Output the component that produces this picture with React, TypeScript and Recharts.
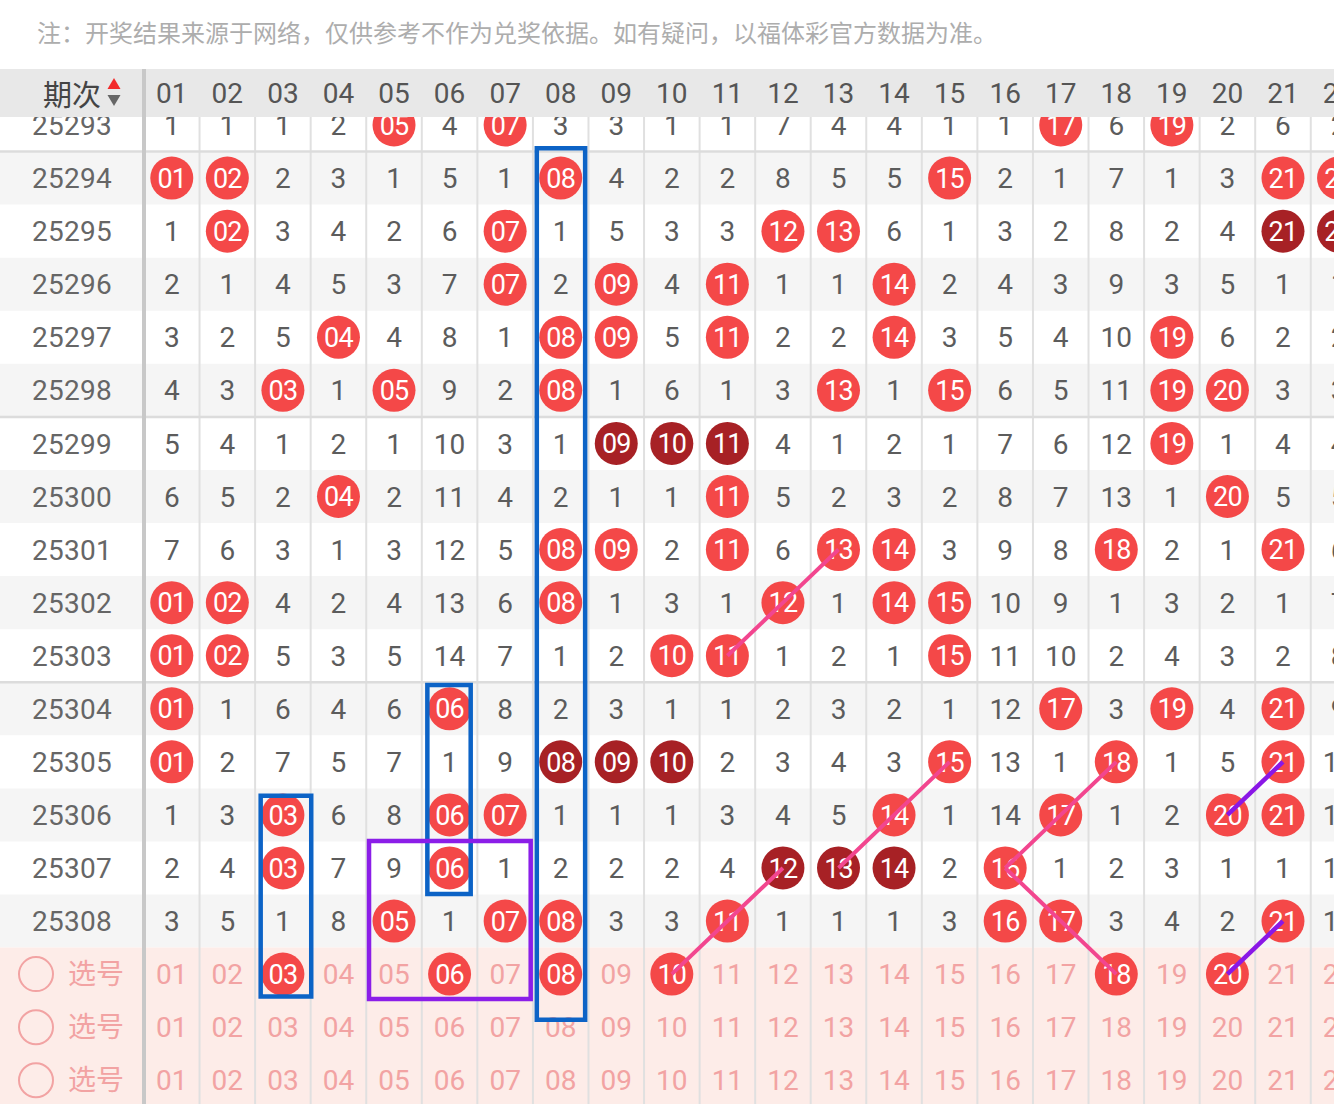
import React from 'react';
import { ComposedChart, Scatter, Line, XAxis, YAxis, ReferenceArea, ReferenceLine } from 'recharts';

// ---------- text ----------
const NOTE_TEXT = '注：开奖结果来源于网络，仅供参考不作为兑奖依据。如有疑问，以福体彩官方数据为准。';
const PERIOD_TITLE = '期次';
const PICK_LABEL = '选号';

// ---------- data ----------
const columnLabels = ['01', '02', '03', '04', '05', '06', '07', '08', '09', '10', '11', '12', '13', '14', '15', '16', '17', '18', '19', '20', '21', '22'];
const periods = ['25293', '25294', '25295', '25296', '25297', '25298', '25299', '25300', '25301', '25302', '25303', '25304', '25305', '25306', '25307', '25308'];

// omission values per period, columns 01..22 (0 = drawn in that period)
const miss25293 = [1, 1, 1, 2, 0, 4, 0, 3, 3, 1, 1, 7, 4, 4, 1, 1, 0, 6, 0, 2, 6, 2];
const miss25294 = [0, 0, 2, 3, 1, 5, 1, 0, 4, 2, 2, 8, 5, 5, 0, 2, 1, 7, 1, 3, 0, 0];
const miss25295 = [1, 0, 3, 4, 2, 6, 0, 1, 5, 3, 3, 0, 0, 6, 1, 3, 2, 8, 2, 4, 0, 0];
const miss25296 = [2, 1, 4, 5, 3, 7, 0, 2, 0, 4, 0, 1, 1, 0, 2, 4, 3, 9, 3, 5, 1, 1];
const miss25297 = [3, 2, 5, 0, 4, 8, 1, 0, 0, 5, 0, 2, 2, 0, 3, 5, 4, 10, 0, 6, 2, 2];
const miss25298 = [4, 3, 0, 1, 0, 9, 2, 0, 1, 6, 1, 3, 0, 1, 0, 6, 5, 11, 0, 0, 3, 3];
const miss25299 = [5, 4, 1, 2, 1, 10, 3, 1, 0, 0, 0, 4, 1, 2, 1, 7, 6, 12, 0, 1, 4, 4];
const miss25300 = [6, 5, 2, 0, 2, 11, 4, 2, 1, 1, 0, 5, 2, 3, 2, 8, 7, 13, 1, 0, 5, 5];
const miss25301 = [7, 6, 3, 1, 3, 12, 5, 0, 0, 2, 0, 6, 0, 0, 3, 9, 8, 0, 2, 1, 0, 6];
const miss25302 = [0, 0, 4, 2, 4, 13, 6, 0, 1, 3, 1, 0, 1, 0, 0, 10, 9, 1, 3, 2, 1, 7];
const miss25303 = [0, 0, 5, 3, 5, 14, 7, 1, 2, 0, 0, 1, 2, 1, 0, 11, 10, 2, 4, 3, 2, 8];
const miss25304 = [0, 1, 6, 4, 6, 0, 8, 2, 3, 1, 1, 2, 3, 2, 1, 12, 0, 3, 0, 4, 0, 9];
const miss25305 = [0, 2, 7, 5, 7, 1, 9, 0, 0, 0, 2, 3, 4, 3, 0, 13, 1, 0, 1, 5, 0, 10];
const miss25306 = [1, 3, 0, 6, 8, 0, 0, 1, 1, 1, 3, 4, 5, 0, 1, 14, 0, 1, 2, 0, 0, 11];
const miss25307 = [2, 4, 0, 7, 9, 0, 1, 2, 2, 2, 4, 0, 0, 0, 2, 0, 1, 2, 3, 1, 1, 12];
const miss25308 = [3, 5, 1, 8, 0, 1, 0, 0, 3, 3, 0, 1, 1, 1, 3, 0, 0, 3, 4, 2, 0, 13];
const missRows = [miss25293, miss25294, miss25295, miss25296, miss25297, miss25298, miss25299, miss25300,
  miss25301, miss25302, miss25303, miss25304, miss25305, miss25306, miss25307, miss25308];

// consecutive-number hits (dark balls): [period, column]
const consecutiveHits: [string, number][] = [
  ['25295', 21], ['25295', 22],
  ['25299', 9], ['25299', 10], ['25299', 11],
  ['25305', 8], ['25305', 9], ['25305', 10],
  ['25307', 12], ['25307', 13], ['25307', 14],
];

// pick rows below the periods
const pickRowCount = 3;
const pickedNumbers = [3, 6, 8, 10, 18, 20]; // first pick row

// trend links: [rowIndex, column]; rows 16..18 are the pick rows
const pinkLinks: [number, number][][] = [
  [[16, 10], [15, 11], [14, 12]],
  [[14, 13], [13, 14], [12, 15]],
  [[10, 11], [9, 12], [8, 13]],
  [[14, 16], [13, 17], [12, 18]],
  [[14, 16], [15, 17], [16, 18]],
];
const purpleLinks: [number, number][][] = [
  [[16, 20], [15, 21]],
  [[13, 20], [12, 21]],
];

// ---------- style ----------
const W = 1334;
const H = 1104;
const LEFT = 144;
const HEADER_TOP = 69;
const TOP = 117;
const COL_W = 55.56;
const ROW_H = 53.07;
const FIRST_ROW_Y = 125;

const RED = '#f44848';
const DARK = '#a72125';
const BLUE = '#0c63c6';
const PURPLE = '#8b1ee8';
const PINK_LINE = '#f2468f';
const PURPLE_LINE = '#8a17e6';
const PICK_TEXT = '#f2a3a3';
const NUM_TEXT = '#5c5c5c';
const ROW_GRAY = '#f5f5f5';
const PICK_BG = '#fdece8';
const GRID = '#e0e0e0';

// highlight boxes in column / row units
const boxes = [
  { c1: 7.57, c2: 8.44, r1: 0.44, r2: 16.86, color: BLUE },
  { c1: 5.6, c2: 6.38, r1: 10.55, r2: 14.49, color: BLUE },
  { c1: 2.6, c2: 3.51, r1: 12.64, r2: 16.42, color: BLUE },
  { c1: 4.55, c2: 7.46, r1: 13.49, r2: 16.47, color: PURPLE },
];

const X_DOMAIN: [number, number] = [0.5, 0.5 + (W - LEFT) / COL_W];
const Y_MIN = -(FIRST_ROW_Y - TOP) / ROW_H;
const Y_DOMAIN: [number, number] = [Y_MIN, Y_MIN + (H - TOP) / ROW_H];
const X_FAR_LEFT = 0.5 - (LEFT + 4) / COL_W;
const X_FAR_RIGHT = 23;

const FONT = "Roboto, 'Noto Sans CJK SC', sans-serif";

// ---------- derived tables ----------
type Cell = { x: number; y: number; kind: 'miss' | 'hit' | 'dark' | 'pick' | 'open'; text: string };
const cells: Cell[] = [];
missRows.forEach((row, r) => {
  row.forEach((v, i) => {
    const c = i + 1;
    if (v === 0) {
      const dark = consecutiveHits.some(([p, col]) => p === periods[r] && col === c);
      cells.push({ x: c, y: r, kind: dark ? 'dark' : 'hit', text: columnLabels[i] });
    } else {
      cells.push({ x: c, y: r, kind: 'miss', text: String(v) });
    }
  });
});
for (let s = 0; s < pickRowCount; s++) {
  columnLabels.forEach((label, i) => {
    const c = i + 1;
    const picked = s === 0 && pickedNumbers.includes(c);
    cells.push({ x: c, y: periods.length + s, kind: picked ? 'pick' : 'open', text: label });
  });
}

const rowTicks = Array.from({ length: periods.length + pickRowCount }, (_, i) => i);
const headerCells = columnLabels.map((label, i) => ({ x: i + 1, y: 0, text: label }));
const toPoints = (link: [number, number][]) => link.map(([r, c]) => ({ x: c, y: r }));

// ---------- shapes ----------
const CellShape = (props: any) => {
  const { cx, cy, payload } = props;
  if (cx == null || cy == null || !payload) return null;
  const p = payload as Cell;
  if (p.kind === 'hit' || p.kind === 'dark' || p.kind === 'pick') {
    return (
      <g>
        <circle cx={cx} cy={cy} r={21.5} fill={p.kind === 'dark' ? DARK : RED} />
        <text x={cx} y={cy} dy="0.36em" textAnchor="middle" fontSize={27} letterSpacing={-0.8} fill="#ffffff">
          {p.text}
        </text>
      </g>
    );
  }
  return (
    <text x={cx} y={cy} dy="0.36em" textAnchor="middle" fontSize={28} fill={p.kind === 'open' ? PICK_TEXT : NUM_TEXT}>
      {p.text}
    </text>
  );
};

const HeaderShape = (props: any) => {
  const { cx, cy, payload } = props;
  if (cx == null || cy == null || !payload) return null;
  return (
    <text x={cx} y={cy} dy="0.36em" textAnchor="middle" fontSize={28} fill="#555555">
      {payload.text}
    </text>
  );
};

const PeriodTick = (props: any) => {
  const { y, payload } = props;
  const r = payload?.value;
  if (r == null) return null;
  if (r < periods.length) {
    return (
      <text x={72} y={y} dy="0.36em" textAnchor="middle" fontSize={28} letterSpacing={0.3} fill="#666666">
        {periods[r]}
      </text>
    );
  }
  return (
    <g>
      <circle cx={36} cy={y} r={17} fill="none" stroke={PICK_TEXT} strokeWidth={2} />
      <text x={96} y={y} dy="0.36em" textAnchor="middle" fontSize={28} fill={PICK_TEXT}>
        {PICK_LABEL}
      </text>
    </g>
  );
};

export default function App() {
  const grayRows = rowTicks.filter((r) => r < periods.length && r % 2 === 1);
  const separators = [0.5, 5.5, 10.5];
  const colLines = columnLabels.slice(0, -1).map((_, i) => i + 1.5);

  return (
    <div style={{ position: 'absolute', left: 0, top: 0, width: W, height: H, background: '#ffffff', fontFamily: FONT, overflow: 'hidden' }}>
      <div style={{ position: 'absolute', left: 0, top: 0 }}>
        <ComposedChart width={W} height={H} margin={{ top: TOP, right: 0, bottom: 0, left: 0 }}>
          {grayRows.map((r) => (
            <ReferenceArea key={'bg' + r} x1={X_FAR_LEFT} x2={X_FAR_RIGHT} y1={r - 0.5} y2={r + 0.5}
              fill={ROW_GRAY} fillOpacity={1} stroke="none" ifOverflow="visible" zIndex={50} />
          ))}
          <ReferenceArea x1={X_FAR_LEFT} x2={X_FAR_RIGHT} y1={periods.length - 0.5} y2={Y_DOMAIN[1] + 1}
            fill={PICK_BG} fillOpacity={1} stroke="none" ifOverflow="visible" zIndex={50} />
          {colLines.map((x) => (
            <ReferenceLine key={'v' + x} x={x} stroke={GRID} strokeWidth={2} ifOverflow="visible" zIndex={60} />
          ))}
          {separators.map((y) => (
            <ReferenceLine key={'h' + y} segment={[{ x: X_FAR_LEFT, y }, { x: X_FAR_RIGHT, y }]}
              stroke="#dcdcdc" strokeWidth={2.5} ifOverflow="visible" zIndex={60} />
          ))}
          <XAxis type="number" dataKey="x" domain={X_DOMAIN} hide allowDataOverflow />
          <YAxis type="number" dataKey="y" domain={Y_DOMAIN} reversed allowDataOverflow width={LEFT}
            ticks={rowTicks} interval={0} tickLine={false}
            axisLine={{ stroke: '#c8c8c8', strokeWidth: 4 }} tick={PeriodTick} />
          <Scatter data={cells} shape={CellShape} isAnimationActive={false} zIndex={600} />
          {pinkLinks.map((link, i) => (
            <Line key={'pl' + i} data={toPoints(link)} dataKey="y" type="linear" stroke={PINK_LINE}
              strokeWidth={4} dot={false} activeDot={false} isAnimationActive={false} zIndex={700} />
          ))}
          {purpleLinks.map((link, i) => (
            <Line key={'ul' + i} data={toPoints(link)} dataKey="y" type="linear" stroke={PURPLE_LINE}
              strokeWidth={4.5} dot={false} activeDot={false} isAnimationActive={false} zIndex={700} />
          ))}
          {boxes.map((b, i) => (
            <ReferenceArea key={'box' + i} x1={b.c1} x2={b.c2} y1={b.r1} y2={b.r2}
              fill="none" fillOpacity={0} stroke={b.color} strokeWidth={4.5} ifOverflow="visible" zIndex={800} />
          ))}
        </ComposedChart>
      </div>

      {/* note */}
      <div style={{ position: 'absolute', left: 37, top: 15, fontSize: 24, lineHeight: '34px', color: '#adadad',
        fontFamily: "'Noto Sans CJK SC', sans-serif", whiteSpace: 'nowrap' }}>
        {NOTE_TEXT}
      </div>

      {/* header */}
      <div style={{ position: 'absolute', left: 0, top: HEADER_TOP, width: W, height: TOP - HEADER_TOP, background: '#e8e8e8' }}>
        <ComposedChart width={W} height={TOP - HEADER_TOP} margin={{ top: 0, right: 0, bottom: 0, left: LEFT }}>
          <XAxis type="number" dataKey="x" domain={X_DOMAIN} hide allowDataOverflow />
          <YAxis type="number" dataKey="y" domain={[-1, 1]} hide allowDataOverflow />
          <ReferenceLine x={0.5} stroke="#c8c8c8" strokeWidth={4} ifOverflow="visible" />
          <Scatter data={headerCells} shape={HeaderShape} isAnimationActive={false} />
        </ComposedChart>
        <div style={{ position: 'absolute', left: 43, top: 0, height: TOP - HEADER_TOP, lineHeight: `${TOP - HEADER_TOP}px`,
          fontSize: 29, color: '#444444', fontFamily: "'Noto Sans CJK SC', sans-serif" }}>
          {PERIOD_TITLE}
        </div>
        <svg style={{ position: 'absolute', left: 106, top: 9 }} width={16} height={30}>
          <polygon points="8,0 14.5,11 1.5,11" fill="#f22b2b" />
          <polygon points="1.5,17 14.5,17 8,28" fill="#666666" />
        </svg>
      </div>
    </div>
  );
}
